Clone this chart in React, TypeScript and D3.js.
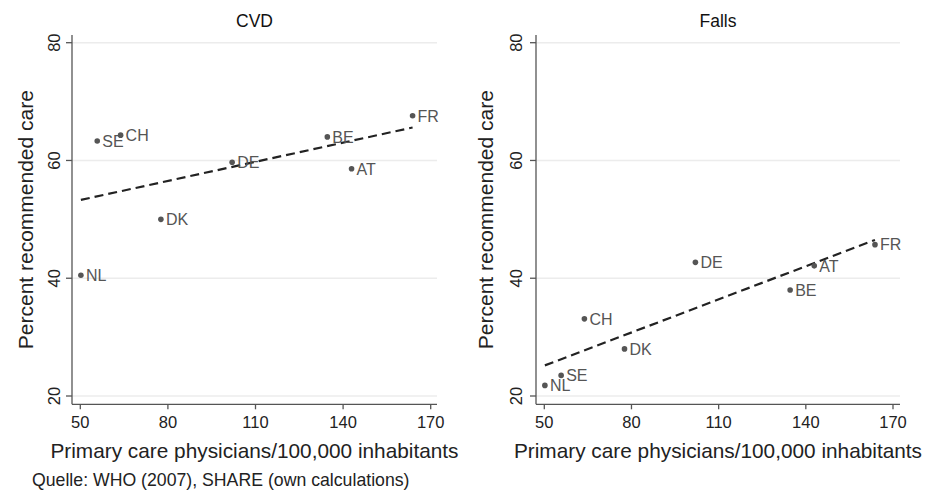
import React from "react";
import * as d3 from "d3";

const countries = ["NL", "SE", "CH", "DK", "DE", "BE", "AT", "FR"];
const physicians = [50.2, 55.8, 63.8, 77.6, 102, 134.6, 142.9, 163.8];
const cvdCare = [40.5, 63.3, 64.3, 50.0, 59.7, 64.0, 58.6, 67.6];
const fallsCare = [21.8, 23.5, 33.1, 28.0, 42.7, 38.0, 42.1, 45.7];
// fitted line read at the smallest and largest x
const cvdFit = [53.3, 65.6];
const fallsFit = [25.2, 46.5];
const xTicks = [50, 80, 110, 140, 170];
const yTicks = [20, 40, 60, 80];
const panelTitles = ["CVD", "Falls"];
const xTitle = "Primary care physicians/100,000 inhabitants";
const yTitle = "Percent recommended care";
const source = "Quelle: WHO (2007), SHARE (own calculations)";

const FONT = "'Liberation Sans', Arial, sans-serif";

type PanelProps = {
  title: string;
  values: number[];
  fit: number[];
  axisLeft: number;
  axisRight: number;
  x50: number;
  x170: number;
  tickOff: number;
  titleOff: number;
};

function Panel({ title, values, fit, axisLeft, axisRight, x50, x170, tickOff, titleOff }: PanelProps) {
  const x = d3.scaleLinear().domain([50, 170]).range([x50, x170]);
  const y = d3.scaleLinear().domain([20, 80]).range([396, 42.7]);
  const axisBottom = 404.3;
  const axisTop = 35;
  const cx = (axisLeft + axisRight) / 2;
  const xMin = d3.min(physicians) as number;
  const xMax = d3.max(physicians) as number;
  const line = d3.line<[number, number]>().x((d) => x(d[0])).y((d) => y(d[1]));
  const fitPath = line([
    [xMin, fit[0]],
    [xMax, fit[1]],
  ]);
  const midY = (axisTop + axisBottom) / 2;
  return (
    <g>
      {yTicks.map((t) => (
        <line key={"g" + t} x1={axisLeft} x2={axisRight} y1={y(t)} y2={y(t)} stroke="#ececec" strokeWidth={1.5} />
      ))}
      <text x={cx} y={27.3} textAnchor="middle" fontSize={17.5} fontFamily={FONT} fill="#111">
        {title}
      </text>
      {/* y axis */}
      <line x1={axisLeft} x2={axisLeft} y1={axisTop} y2={axisBottom} stroke="#555" strokeWidth={1.3} />
      {yTicks.map((t) => (
        <g key={"y" + t}>
          <line x1={axisLeft - 6} x2={axisLeft} y1={y(t)} y2={y(t)} stroke="#555" strokeWidth={1.3} />
          <text
            transform={`translate(${axisLeft - tickOff},${y(t)}) rotate(-90)`}
            textAnchor="middle"
            fontSize={16.5}
            fontFamily={FONT}
            fill="#222"
          >
            {t}
          </text>
        </g>
      ))}
      <text
        transform={`translate(${axisLeft - titleOff},${midY}) rotate(-90)`}
        textAnchor="middle"
        fontSize={21}
        fontFamily={FONT}
        fill="#222"
      >
        {yTitle}
      </text>
      {/* x axis */}
      <line x1={axisLeft} x2={axisRight} y1={axisBottom} y2={axisBottom} stroke="#555" strokeWidth={1.3} />
      {xTicks.map((t) => (
        <g key={"x" + t}>
          <line x1={x(t)} x2={x(t)} y1={axisBottom} y2={axisBottom + 5} stroke="#555" strokeWidth={1.3} />
          <text x={x(t)} y={428} textAnchor="middle" fontSize={16.5} fontFamily={FONT} fill="#222">
            {t}
          </text>
        </g>
      ))}
      <text x={cx} y={458} textAnchor="middle" fontSize={20.8} fontFamily={FONT} fill="#222">
        {xTitle}
      </text>
      {/* fit line */}
      <path d={fitPath || ""} fill="none" stroke="#222" strokeWidth={2.2} strokeDasharray="9,5" />
      {/* points */}
      {countries.map((c, i) => (
        <g key={c}>
          <circle cx={x(physicians[i])} cy={y(values[i])} r={2.8} fill="#555" />
          <text
            x={x(physicians[i]) + 5}
            y={y(values[i]) + 5.8}
            fontSize={16}
            fontFamily={FONT}
            fill="#555"
          >
            {c}
          </text>
        </g>
      ))}
    </g>
  );
}

export default function App() {
  return (
    <svg
      width={934}
      height={491}
      style={{ position: "absolute", left: 0, top: 0, background: "#fff" }}
    >
      <rect width={934} height={491} fill="#fff" />
      <Panel
        title={panelTitles[0]}
        values={cvdCare}
        fit={cvdFit}
        axisLeft={72}
        axisRight={437}
        x50={80.3}
        x170={430.7}
        tickOff={12}
        titleOff={39}
      />
      <Panel
        title={panelTitles[1]}
        values={fallsCare}
        fit={fallsFit}
        axisLeft={536}
        axisRight={900}
        x50={544.3}
        x170={893}
        tickOff={14}
        titleOff={43}
      />
      <text x={32} y={486} fontSize={17.7} fontFamily={FONT} fill="#222">
        {source}
      </text>
    </svg>
  );
}
